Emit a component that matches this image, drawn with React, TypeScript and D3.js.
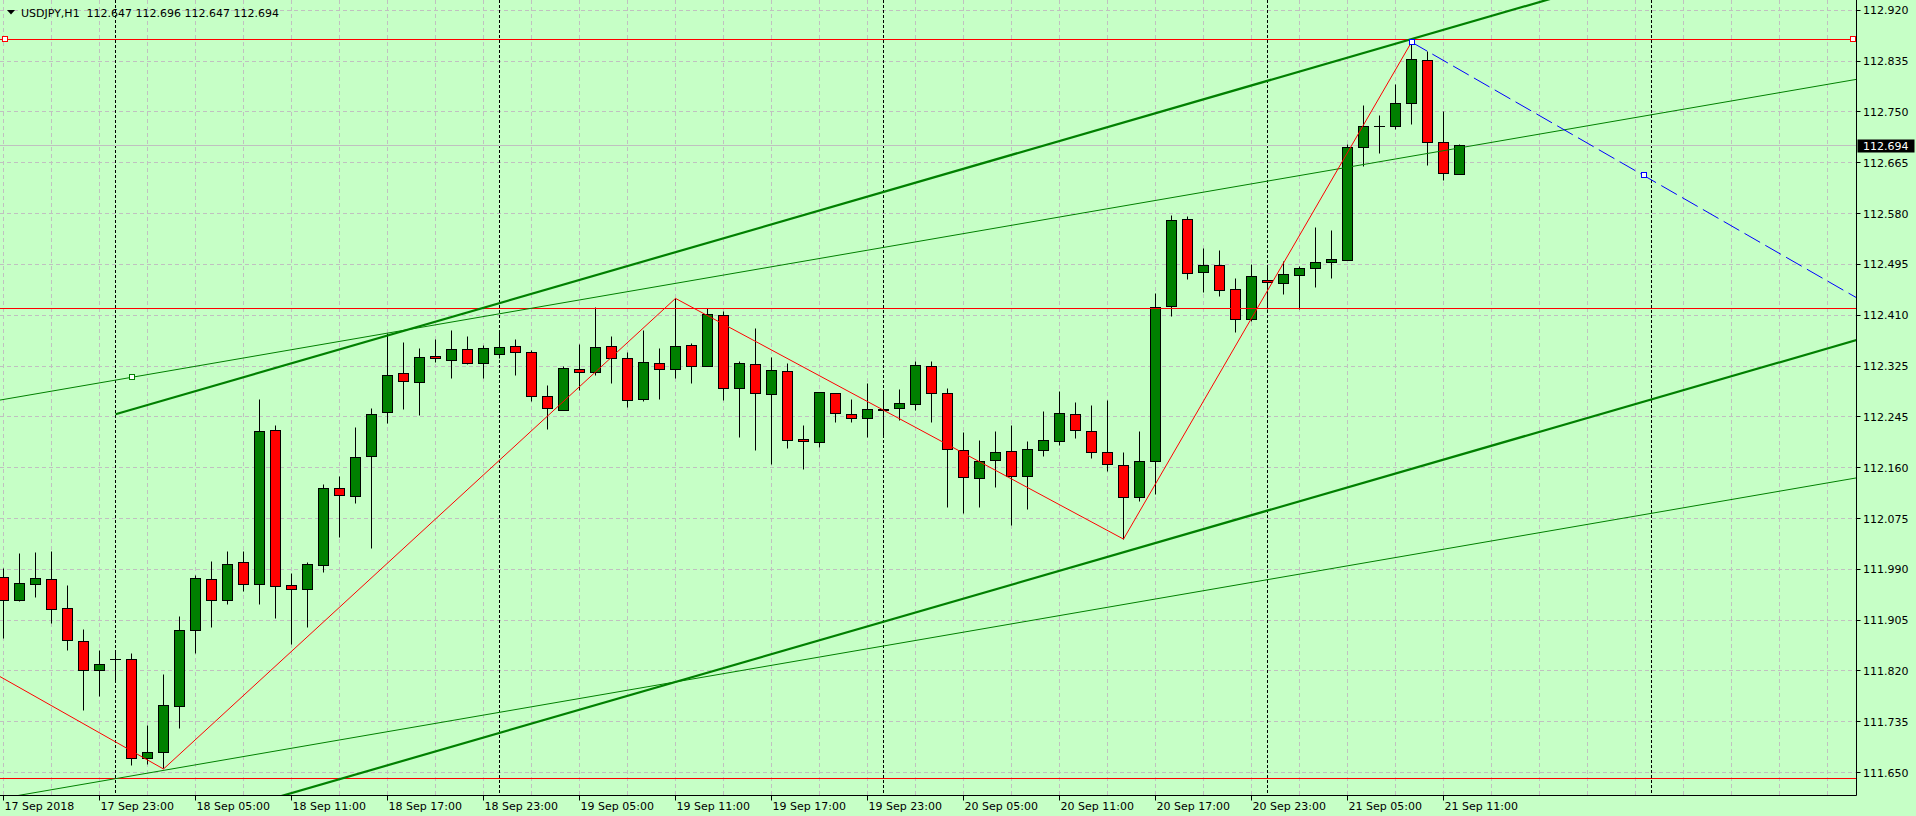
import React from 'react';
import * as d3 from 'd3';

// ---------- data ----------
const opens = [111.975,111.937,111.964,111.972,111.924,111.869,111.820,111.839,111.839,111.674,111.684,111.760,111.887,111.972,111.937,112.000,111.964,112.220,111.962,111.955,111.995,112.124,112.110,112.177,112.250,112.315,112.300,112.344,112.337,112.355,112.332,112.347,112.360,112.350,112.277,112.254,112.322,112.317,112.360,112.340,112.272,112.332,112.322,112.362,112.327,112.412,112.290,112.330,112.280,112.319,112.205,112.200,112.282,112.247,112.240,112.255,112.257,112.264,112.327,112.282,112.187,112.140,112.170,112.185,112.144,112.187,112.202,112.247,112.219,112.184,112.162,112.109,112.169,112.427,112.572,112.483,112.495,112.455,112.405,112.470,112.465,112.478,112.490,112.500,112.503,112.692,112.726,112.727,112.765,112.837,112.700,112.647];
const highs = [111.990,112.015,112.017,112.019,111.962,111.889,111.854,111.850,111.849,111.729,111.814,111.910,111.978,112.002,112.019,112.019,112.272,112.229,111.982,112.000,112.130,112.144,112.225,112.256,112.382,112.367,112.356,112.372,112.386,112.377,112.361,112.384,112.371,112.353,112.295,112.327,112.364,112.425,112.377,112.350,112.386,112.356,112.440,112.365,112.423,112.418,112.335,112.390,112.342,112.332,112.229,112.284,112.282,112.272,112.299,112.287,112.289,112.335,112.335,112.290,112.217,112.204,112.219,112.229,112.202,112.252,112.285,112.267,112.262,112.270,112.184,112.219,112.449,112.578,112.577,112.523,112.520,112.473,112.497,112.495,112.502,112.493,112.558,112.553,112.697,112.762,112.745,112.797,112.867,112.852,112.752,112.696];
const lows = [111.874,111.935,111.941,111.898,111.853,111.753,111.776,111.800,111.661,111.663,111.656,111.723,111.848,111.891,111.930,111.951,111.930,111.906,111.863,111.891,111.983,112.041,112.099,112.024,112.232,112.255,112.245,112.334,112.306,112.330,112.306,112.340,112.311,112.269,112.222,112.254,112.287,112.312,112.299,112.259,112.269,112.272,112.306,112.299,112.327,112.270,112.209,112.187,112.164,112.190,112.155,112.192,112.234,112.234,112.209,112.210,112.237,112.253,112.234,112.092,112.082,112.092,112.125,112.062,112.089,112.177,112.195,112.207,112.174,112.152,112.039,112.102,112.114,112.410,112.472,112.450,112.443,112.383,112.402,112.421,112.447,112.422,112.458,112.473,112.503,112.660,112.681,112.722,112.730,112.662,112.637,112.647];
const closes = [111.937,111.965,111.974,111.922,111.870,111.820,111.830,111.839,111.674,111.684,111.762,111.887,111.974,111.937,111.997,111.964,112.219,111.960,111.955,111.997,112.124,112.112,112.175,112.247,112.312,112.302,112.342,112.340,112.355,112.332,112.357,112.359,112.350,112.277,112.257,112.324,112.317,112.359,112.340,112.270,112.334,112.322,112.360,112.327,112.413,112.290,112.332,112.282,112.320,112.204,112.202,112.284,112.249,112.240,112.255,112.254,112.265,112.329,112.282,112.189,112.142,112.169,112.184,112.144,112.189,112.204,112.249,112.220,112.184,112.164,112.109,112.169,112.425,112.570,112.482,112.495,112.453,112.405,112.477,112.467,112.480,112.490,112.500,112.505,112.692,112.727,112.726,112.765,112.838,112.700,112.648,112.694];

const timeLabels = ["17 Sep 2018","17 Sep 23:00","18 Sep 05:00","18 Sep 11:00","18 Sep 17:00","18 Sep 23:00","19 Sep 05:00","19 Sep 11:00","19 Sep 17:00","19 Sep 23:00","20 Sep 05:00","20 Sep 11:00","20 Sep 17:00","20 Sep 23:00","21 Sep 05:00","21 Sep 11:00"];
const timeLabelBars = [0,6,12,18,24,30,36,42,48,54,60,66,72,78,84,90];
const priceLabels = ["112.920","112.835","112.750","112.665","112.580","112.495","112.410","112.325","112.245","112.160","112.075","111.990","111.905","111.820","111.735","111.650"];
const separatorBars = [7,31,55,79,103];

const redLevels = [112.872, 112.424, 111.640];
const bidPrice = 112.694;
const zigzagBars = [-5,10,42,70,88];
const zigzagPrices = [111.882,111.656,112.440,112.039,112.867];
const thickBars = [7,88];
const thickPrices = [112.247,112.872];
const thickOffset = 0.716;
const thinBars = [8,108];
const thinPrices = [112.3085,112.769];
const thinOffset = 0.664;
const blueBars = [88,102.5];
const bluePrices = [112.867,112.645];

const title = "USDJPY,H1  112.647 112.696 112.647 112.694";

// ---------- layout ----------
const W = 1916, H = 816;
const PR = 1856.5; // right axis line
const PB = 795.5;  // bottom axis line
const BG = 'rgb(198,255,198)';
const GRID = '#c0c0c0';
const FONT = '"DejaVu Sans", Verdana, sans-serif';

const x = d3.scaleLinear().domain([0, 91]).range([3.5, 3.5 + 16 * 91]);
const y = d3.scaleLinear().domain([111.650, 112.920]).range([772.6, 10.3]);
const crisp = (v: number) => Math.round(v - 0.5) + 0.5;

const lerp = (b0: number, p0: number, b1: number, p1: number, b: number) => p0 + (p1 - p0) * (b - b0) / (b1 - b0);

function seg(b0: number, p0: number, b1: number, p1: number, from: number, to: number, off = 0) {
  return { x1: x(from), y1: y(lerp(b0, p0, b1, p1, from) - off), x2: x(to), y2: y(lerp(b0, p0, b1, p1, to) - off) };
}

export default function App() {
  const gridPrices = d3.range(16).map(k => 112.920 - k * (1.27 / 15));
  const vGridBars = d3.range(0, 116, 3);
  const bars = d3.range(opens.length);
  const zz = d3.line<number>().x(i => x(zigzagBars[i])).y(i => y(zigzagPrices[i]))(d3.range(zigzagBars.length)) || '';

  const thickU = seg(thickBars[0], thickPrices[0], thickBars[1], thickPrices[1], 7, 140);
  const thickL = seg(thickBars[0], thickPrices[0], thickBars[1], thickPrices[1], 7, 140, thickOffset);
  const thinU = seg(thinBars[0], thinPrices[0], thinBars[1], thinPrices[1], -10, 140);
  const thinL = seg(thinBars[0], thinPrices[0], thinBars[1], thinPrices[1], -10, 140, thinOffset);
  const blue = seg(blueBars[0], bluePrices[0], blueBars[1], bluePrices[1], 88, 140);

  const sq = (cx: number, cy: number, color: string, key: string) => (
    <rect key={key} x={Math.round(cx) - 2.5} y={Math.round(cy) - 2.5} width={5} height={5} fill="#ffffff" stroke={color} strokeWidth={1} />
  );

  return (
    <div style={{ position: 'fixed', left: 0, top: 0 }}>
      <svg width={W} height={H} style={{ display: 'block' }}>
        <defs>
          <clipPath id="plot"><rect x={0} y={0} width={PR} height={PB} /></clipPath>
        </defs>
        <rect x={0} y={0} width={W} height={H} fill={BG} />
        <g clipPath="url(#plot)">
          {gridPrices.map((p, k) => (
            <line key={'hg' + k} x1={0} x2={PR} y1={crisp(y(p))} y2={crisp(y(p))} stroke={GRID} strokeDasharray="4,3" />
          ))}
          {vGridBars.map(b => (
            <line key={'vg' + b} x1={x(b)} x2={x(b)} y1={0} y2={PB} stroke={GRID} strokeDasharray="4,3" />
          ))}
          {separatorBars.map(b => (
            <line key={'sep' + b} x1={x(b)} x2={x(b)} y1={0} y2={PB} stroke="#000" strokeDasharray="3,2" />
          ))}
          <line x1={0} x2={PR} y1={crisp(y(bidPrice))} y2={crisp(y(bidPrice))} stroke="#c0c0c0" />
          {bars.map(i => {
            const o = opens[i], c = closes[i];
            const cx = x(i);
            const yt = crisp(y(Math.max(o, c)));
            const yb = crisp(y(Math.min(o, c)));
            const up = c > o;
            return (
              <g key={'c' + i}>
                <line x1={cx} x2={cx} y1={crisp(y(highs[i]))} y2={crisp(y(lows[i]))} stroke="#000" />
                {o === c ? (
                  <line x1={cx - 5.5} x2={cx + 5.5} y1={yt} y2={yt} stroke="#000" />
                ) : (
                  <rect x={cx - 5} y={yt} width={10} height={Math.max(1, yb - yt)} fill={up ? '#008000' : '#ff0000'} stroke="#000" />
                )}
              </g>
            );
          })}
          {redLevels.map((p, k) => (
            <line key={'rl' + k} x1={0} x2={PR} y1={crisp(y(p))} y2={crisp(y(p))} stroke="#ff0000" />
          ))}
          <line {...thinU} stroke="#008000" strokeWidth={1} />
          <line {...thinL} stroke="#008000" strokeWidth={1} />
          <line {...thickU} stroke="#008000" strokeWidth={2.2} />
          <line {...thickL} stroke="#008000" strokeWidth={2.2} />
          <path d={zz} fill="none" stroke="#ff0000" strokeWidth={1} />
          <line {...blue} stroke="#0000ff" strokeWidth={1} strokeDasharray="18,6" />
          {sq(x(thinBars[0]), y(thinPrices[0]), '#008000', 'sqg')}
          {sq(x(blueBars[0]), y(bluePrices[0]), '#0000ff', 'sqb1')}
          {sq(x(blueBars[1]), y(bluePrices[1]), '#0000ff', 'sqb2')}
          {sq(5, y(redLevels[0]), '#ff0000', 'sqr1')}
          {sq(PR - 3.5, y(redLevels[0]), '#ff0000', 'sqr2')}
        </g>
        {/* title */}
        <path d="M7,10 L15,10 L11,14.5 Z" fill="#000" />
        <text x={21} y={17} fontFamily={FONT} fontSize={11} fill="#000" style={{ whiteSpace: 'pre' }}>{title}</text>
        {/* axes */}
        <line x1={PR} x2={PR} y1={0} y2={PB} stroke="#000" />
        <line x1={0} x2={PR} y1={PB} y2={PB} stroke="#000" />
        {gridPrices.map((p, k) => (
          <g key={'pl' + k}>
            <line x1={PR} x2={PR + 4} y1={crisp(y(p))} y2={crisp(y(p))} stroke="#000" />
            <text x={1863} y={y(p) + 4} fontFamily={FONT} fontSize={11} fill="#000">{priceLabels[k]}</text>
          </g>
        ))}
        <rect x={PR + 1} y={Math.round(y(bidPrice)) - 6.5} width={57} height={13} fill="#000" />
        <text x={1863} y={y(bidPrice) + 4} fontFamily={FONT} fontSize={11} fill="#ffffff">{bidPrice.toFixed(3)}</text>
        {timeLabelBars.map((b, k) => (
          <g key={'tl' + k}>
            <line x1={x(b)} x2={x(b)} y1={PB} y2={PB + 5} stroke="#000" />
            <text x={x(b) + 1} y={810} fontFamily={FONT} fontSize={11} fill="#000">{timeLabels[k]}</text>
          </g>
        ))}
      </svg>
    </div>
  );
}
